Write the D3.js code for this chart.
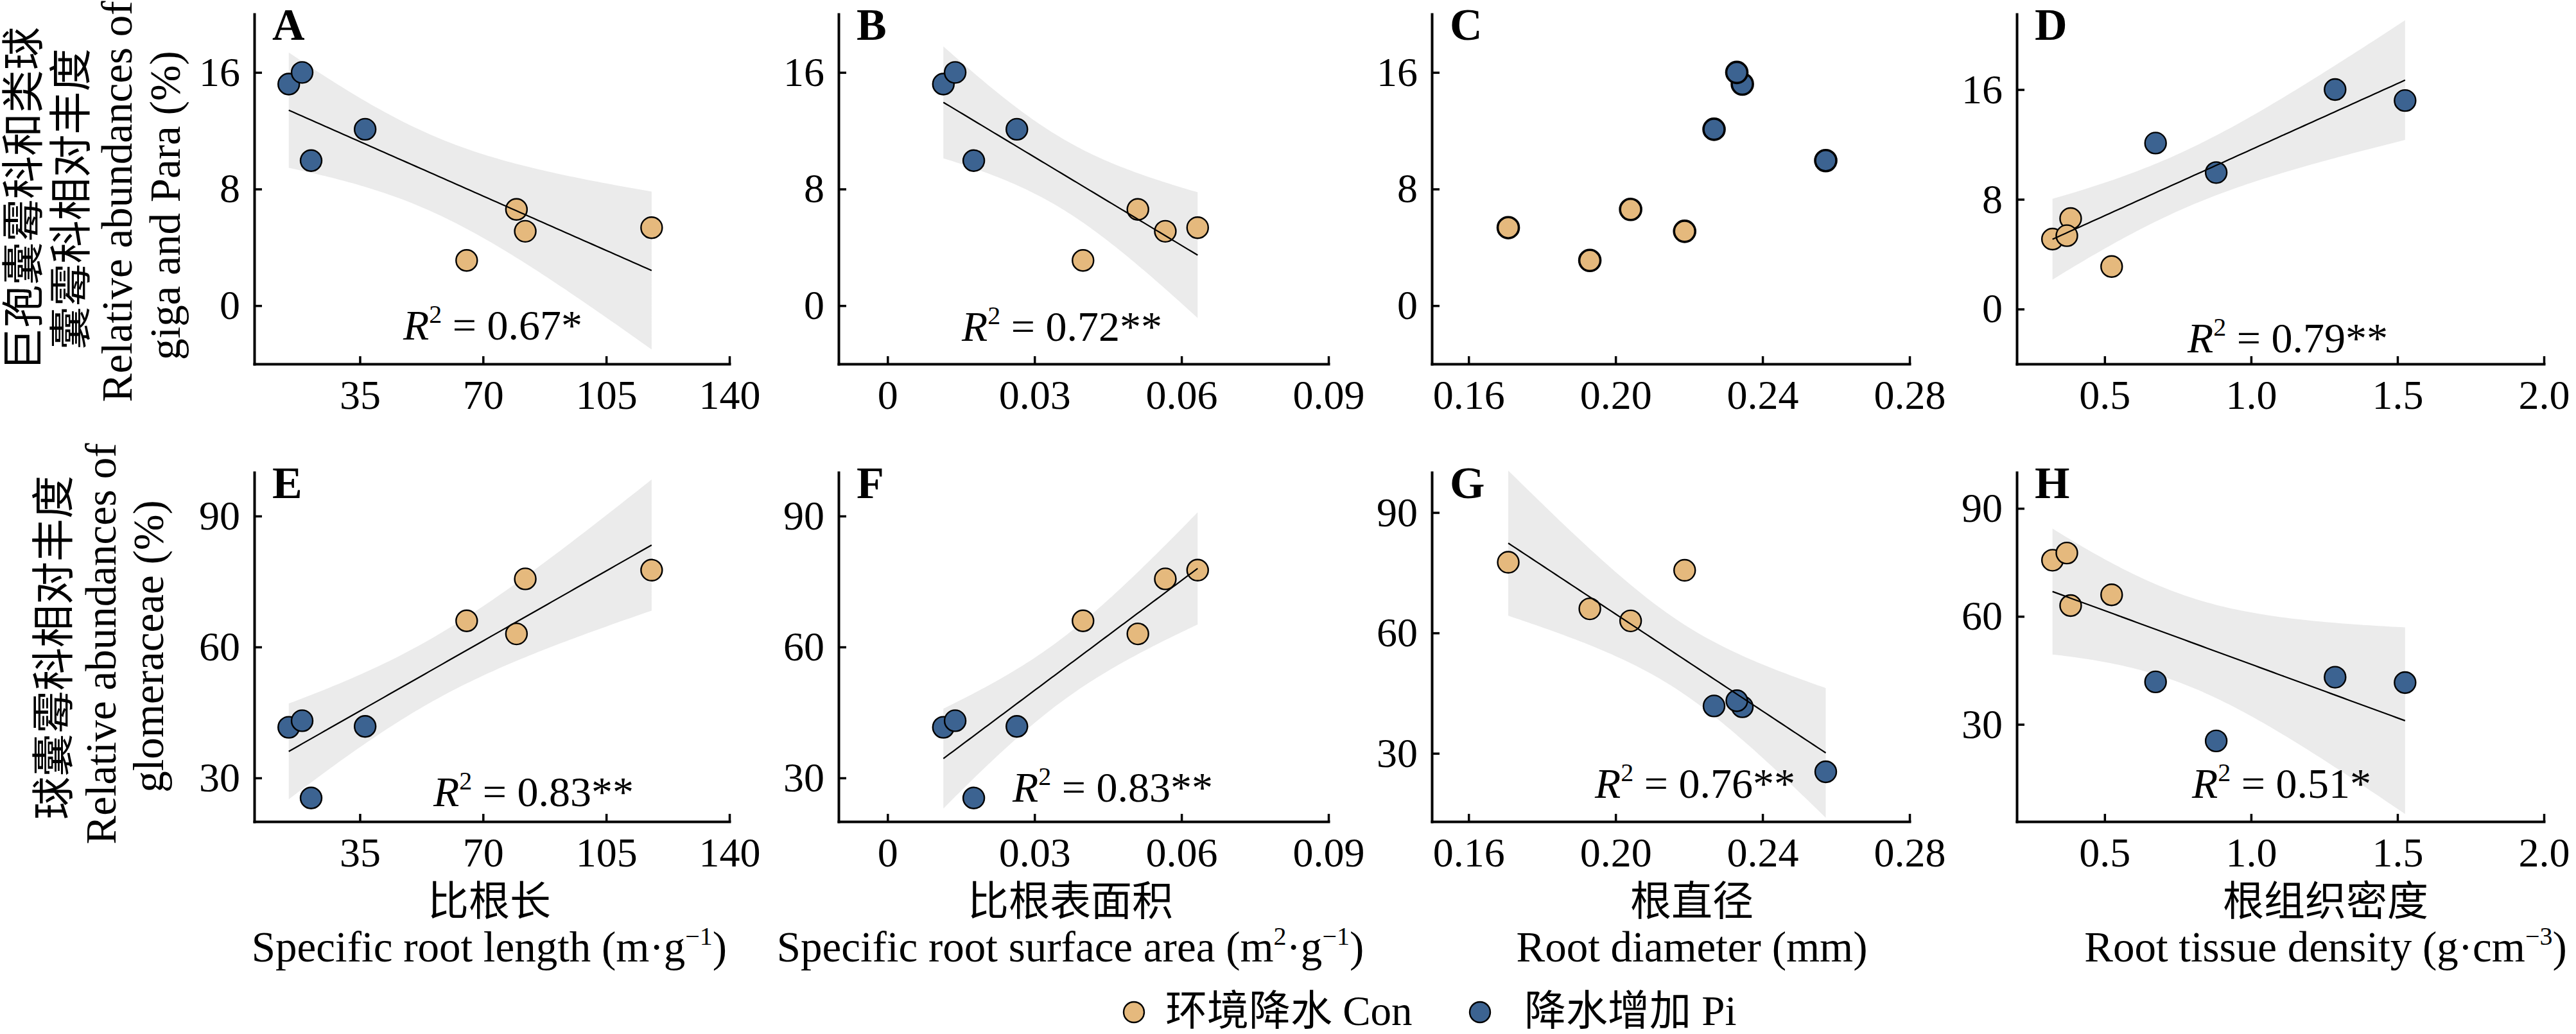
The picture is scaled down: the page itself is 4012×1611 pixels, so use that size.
<!DOCTYPE html>
<html>
<head>
    <meta charset="utf-8">
    <title>Root traits vs AMF abundances</title>
    <style>
        body {
            margin: 0;
            background-color: #fff;
        }

        svg text {
            font-family: "Liberation Serif", "Times New Roman", "Noto Sans CJK SC", serif;
            fill: #000;
        }
    </style>
    <script src="https://d3js.org/d3.v7.min.js"></script>
</head>
<body>
    <svg id="chart" width="4012" height="1611"></svg>

    <script>
        // Eight samples: 4 control (Con) and 4 increased precipitation (Pi)
        var group = ["Con", "Con", "Con", "Con", "Pi", "Pi", "Pi", "Pi"];
        var srl = [79.5, 82.0, 65.35, 117.9, 14.8, 18.6, 36.5, 21.15];           // m·g-1
        var srsa = [0.0511, 0.0567, 0.0399, 0.0633, 0.0114, 0.0138, 0.0264, 0.0176]; // m2·g-1
        var rd = [0.2041, 0.2188, 0.1930, 0.1708, 0.2345, 0.2330, 0.2268, 0.2572]; // mm
        var rtd = [0.384, 0.322, 0.524, 0.371, 1.526, 1.287, 0.674, 0.881];     // g·cm-3
        var gigaPara = [6.6, 5.1, 3.1, 5.35, 15.2, 16.0, 12.1, 9.95];           // %
        var glomer = [63.0, 75.6, 66.0, 77.6, 41.6, 43.1, 41.8, 25.4];          // %

        // tick values
        var ticksSrl = [35, 70, 105, 140];
        var ticksSrsa = [0, 0.03, 0.06, 0.09];
        var ticksRd = [0.16, 0.20, 0.24, 0.28];
        var ticksRtd = [0.5, 1.0, 1.5, 2.0];
        var ticksTop = [0, 8, 16];
        var ticksBottom = [30, 60, 90];

        // R2 labels (null = no fit)
        var r2Labels = ["0.67*", "0.72**", null, "0.79**", "0.83**", "0.83**", "0.76**", "0.51*"];
        var panelLetters = ["A", "B", "C", "D", "E", "F", "G", "H"];

        var groupColor = { Con: "#E5B97D", Pi: "#3C6391" };

        var fmtSrsa = function (v) { return v === 0 ? "0" : d3.format(".2f")(v); };

        // layout of each panel
        var panels = [
            { x: srl, y: gigaPara, left: 396, right: 1136, top: 22, bottom: 567, xd: [5, 140], yd: [-4, 20], xt: ticksSrl, yt: ticksTop, fmt: d3.format("d"), r2x: 232, r2y: 529, sw: 2.4 },
            { x: srsa, y: gigaPara, left: 1306, right: 2069, top: 22, bottom: 567, xd: [-0.01, 0.09], yd: [-4, 20], xt: ticksSrsa, yt: ticksTop, fmt: fmtSrsa, r2x: 192, r2y: 531, sw: 2.4 },
            { x: rd, y: gigaPara, left: 2230, right: 2974, top: 22, bottom: 567, xd: [0.15, 0.28], yd: [-4, 20], xt: ticksRd, yt: ticksTop, fmt: d3.format(".2f"), sw: 3.6 },
            { x: rtd, y: gigaPara, left: 3141, right: 3962, top: 22, bottom: 567, xd: [0.2, 2.0], yd: [-4, 21.5], xt: ticksRtd, yt: ticksTop, fmt: d3.format(".1f"), r2x: 266, r2y: 549, sw: 2.4 },
            { x: srl, y: glomer, left: 396, right: 1136, top: 736, bottom: 1280, xd: [5, 140], yd: [20, 100], xt: ticksSrl, yt: ticksBottom, fmt: d3.format("d"), r2x: 279, r2y: 1256, sw: 2.4 },
            { x: srsa, y: glomer, left: 1306, right: 2069, top: 736, bottom: 1280, xd: [-0.01, 0.09], yd: [20, 100], xt: ticksSrsa, yt: ticksBottom, fmt: fmtSrsa, r2x: 271, r2y: 1249, sw: 2.4 },
            { x: rd, y: glomer, left: 2230, right: 2974, top: 736, bottom: 1280, xd: [0.15, 0.28], yd: [13, 100], xt: ticksRd, yt: ticksBottom, fmt: d3.format(".2f"), r2x: 254, r2y: 1243, sw: 2.4 },
            { x: rtd, y: glomer, left: 3141, right: 3962, top: 736, bottom: 1280, xd: [0.2, 2.0], yd: [3, 100], xt: ticksRtd, yt: ticksBottom, fmt: d3.format(".1f"), r2x: 273, r2y: 1243, sw: 2.4 }
        ];

        // ordinary least squares with 95% confidence band
        function linearFit(xs, ys) {
            var n = xs.length;
            var mx = d3.mean(xs), my = d3.mean(ys);
            var sxx = d3.sum(xs, function (v) { return (v - mx) * (v - mx); });
            var sxy = d3.sum(xs, function (v, i) { return (v - mx) * (ys[i] - my); });
            var slope = sxy / sxx;
            var icpt = my - slope * mx;
            var sse = d3.sum(xs, function (v, i) { var r = ys[i] - (icpt + slope * v); return r * r; });
            var s = Math.sqrt(sse / (n - 2));
            var t = 2.4469; // t(0.975, df = 6)
            var ext = d3.extent(xs);
            return d3.range(81).map(function (k) {
                var xv = ext[0] + (ext[1] - ext[0]) * k / 80;
                var fit = icpt + slope * xv;
                var se = s * Math.sqrt(1 / n + (xv - mx) * (xv - mx) / sxx);
                return { x: xv, y: fit, lo: fit - t * se, hi: fit + t * se };
            });
        }

        var svg = d3.select("#chart");
        svg.append("rect").attr("width", 4012).attr("height", 1611).attr("fill", "#fff");

        function drawPoints(g, pts, x, y, sw) {
            g.append("g").selectAll("circle")
                .data(pts).enter().append("circle")
                .attr("cx", function (d) { return x(d.x); })
                .attr("cy", function (d) { return y(d.y); })
                .attr("r", 16.5)
                .attr("fill", function (d) { return groupColor[d.g]; })
                .attr("stroke", "#000")
                .attr("stroke-width", sw);
        }

        panels.forEach(function (p, i) {
            var x = d3.scaleLinear().domain(p.xd).range([p.left, p.right]);
            var y = d3.scaleLinear().domain(p.yd).range([p.bottom, p.top]);
            var g = svg.append("g");

            var pts = p.x.map(function (v, j) { return { x: v, y: p.y[j], g: group[j] }; });

            if (r2Labels[i]) {
                var band = linearFit(p.x, p.y);
                g.append("path")
                    .datum(band)
                    .attr("fill", "#EBEBEB")
                    .attr("d", d3.area()
                        .x(function (d) { return x(d.x); })
                        .y0(function (d) { return y(d.lo); })
                        .y1(function (d) { return y(d.hi); }));

                drawPoints(g, pts, x, y, p.sw);

                g.append("path")
                    .datum(band)
                    .attr("fill", "none")
                    .attr("stroke", "#000")
                    .attr("stroke-width", 2.2)
                    .attr("d", d3.line()
                        .x(function (d) { return x(d.x); })
                        .y(function (d) { return y(d.y); }));

                var lab = g.append("text")
                    .attr("x", p.left + p.r2x)
                    .attr("y", p.r2y)
                    .attr("font-size", 66);
                lab.append("tspan").attr("font-style", "italic").text("R");
                lab.append("tspan").attr("font-size", 40).attr("dy", -26).text("2");
                lab.append("tspan").attr("dy", 26).text(" = " + r2Labels[i]);
            } else {
                drawPoints(g, pts, x, y, p.sw);
            }

            // axes, ticks pointing inward
            var xAxis = g.append("g")
                .attr("transform", "translate(0," + p.bottom + ")")
                .call(d3.axisBottom(x).tickValues(p.xt).tickFormat(p.fmt)
                    .tickSize(-12).tickSizeOuter(0).tickPadding(25));
            var yAxis = g.append("g")
                .attr("transform", "translate(" + p.left + ",0)")
                .call(d3.axisLeft(y).tickValues(p.yt)
                    .tickSize(-12).tickSizeOuter(0).tickPadding(22));

            [xAxis, yAxis].forEach(function (ax) {
                ax.attr("font-family", null).attr("font-size", null);
                ax.select(".domain").attr("stroke", "#000").attr("stroke-width", 4)
                    .attr("stroke-linecap", "square");
                ax.selectAll(".tick line").attr("stroke", "#000").attr("stroke-width", 3.5);
                ax.selectAll(".tick text").attr("font-size", 64);
            });

            g.append("text")
                .attr("x", p.left + 28)
                .attr("y", p.top + 40)
                .attr("font-size", 70)
                .attr("font-weight", "bold")
                .text(panelLetters[i]);
        });

        // y axis titles (rotated)
        var yTitles = [
            { text: "巨孢囊霉科和类球", x: 60, y: 310 },
            { text: "囊霉科相对丰度", x: 134, y: 310 },
            { text: "Relative abundances of", x: 205, y: 314 },
            { text: "giga and Para (%)", x: 280, y: 320 },
            { text: "球囊霉科相对丰度", x: 107, y: 1009 },
            { text: "Relative abundances of", x: 180, y: 1003 },
            { text: "glomeraceae (%)", x: 254, y: 1007 }
        ];
        svg.append("g").selectAll("text")
            .data(yTitles).enter().append("text")
            .attr("x", function (d) { return d.x; })
            .attr("y", function (d) { return d.y; })
            .attr("transform", function (d) { return "rotate(-90," + d.x + "," + d.y + ")"; })
            .attr("text-anchor", "middle")
            .attr("font-size", 67)
            .text(function (d) { return d.text; });

        // x axis titles
        var xTitles = [
            { cn: "比根长", en: "Specific root length (m·g", sup: "−1", tail: ")", x: 762 },
            { cn: "比根表面积", en: "Specific root surface area (m", sup: "2", mid: "·g", sup2: "−1", tail: ")", x: 1667 },
            { cn: "根直径", en: "Root diameter (mm)", x: 2635 },
            { cn: "根组织密度", en: "Root tissue density (g·cm", sup: "−3", tail: ")", x: 3622 }
        ];
        xTitles.forEach(function (d) {
            svg.append("text")
                .attr("x", d.x).attr("y", 1426)
                .attr("text-anchor", "middle")
                .attr("font-size", 64)
                .text(d.cn);
            var t = svg.append("text")
                .attr("x", d.x).attr("y", 1498)
                .attr("text-anchor", "middle")
                .attr("font-size", 67);
            t.append("tspan").text(d.en);
            if (d.sup) {
                t.append("tspan").attr("font-size", 40).attr("dy", -26).text(d.sup);
                if (d.mid) {
                    t.append("tspan").attr("dy", 26).text(d.mid);
                    t.append("tspan").attr("font-size", 40).attr("dy", -26).text(d.sup2);
                }
                t.append("tspan").attr("dy", 26).text(d.tail);
            }
        });

        // legend
        var legendItems = [
            { g: "Con", label: "环境降水 Con", cx: 1766, tx: 1815 },
            { g: "Pi", label: "降水增加 Pi", cx: 2305, tx: 2374 }
        ];
        var lg = svg.append("g");
        legendItems.forEach(function (d) {
            lg.append("circle")
                .attr("cx", d.cx).attr("cy", 1577).attr("r", 16)
                .attr("fill", groupColor[d.g])
                .attr("stroke", "#000").attr("stroke-width", 2.4);
            lg.append("text")
                .attr("x", d.tx).attr("y", 1597)
                .attr("font-size", 65)
                .text(d.label);
        });
    </script>
</body>
</html>
